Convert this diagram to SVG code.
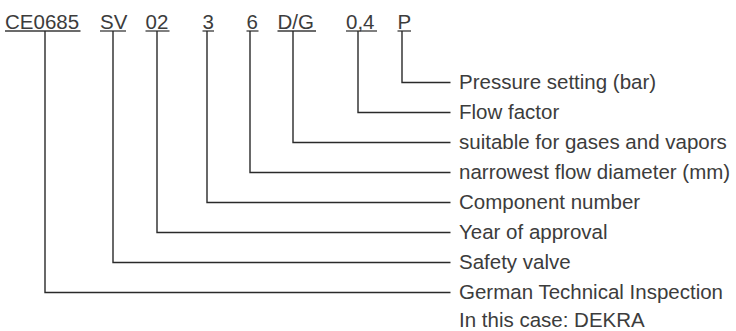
<svg xmlns="http://www.w3.org/2000/svg" width="736" height="331" viewBox="0 0 736 331">
<style>
text{font-family:"Liberation Sans",Arial,sans-serif;font-size:20.5px;fill:#3c3c3c}
.u{stroke:#3a3a3a;stroke-width:1.3;fill:none}
.c{stroke:#2a2a2a;stroke-width:1.4;fill:none}
</style>
<rect width="736" height="331" fill="#fff"/>
<g id="codes">
<g id="code-ce"><text x="5" y="29">CE0685</text><line class="u" x1="5" y1="31" x2="80.5" y2="31"/></g>
<g id="code-sv"><text x="100" y="29">SV</text><line class="u" x1="100" y1="31" x2="126" y2="31"/></g>
<g id="code-02"><text x="145.5" y="29">02</text><line class="u" x1="145.5" y1="31" x2="169.5" y2="31"/></g>
<g id="code-3"><text x="202.5" y="29">3</text><line class="u" x1="202.5" y1="31" x2="214" y2="31"/></g>
<g id="code-6"><text x="246.5" y="29">6</text><line class="u" x1="246.5" y1="31" x2="258.5" y2="31"/></g>
<g id="code-dg"><text x="277.5" y="29">D/G</text><line class="u" x1="277.5" y1="31" x2="316" y2="31"/></g>
<g id="code-04"><text x="346" y="29">0,4</text><line class="u" x1="346" y1="31" x2="377" y2="31"/></g>
<g id="code-p"><text x="397.5" y="29">P</text><line class="u" x1="397.5" y1="31" x2="411" y2="31"/></g>
</g>
<g id="labels">
<g id="label-p"><text x="459" y="89">Pressure setting (bar)</text></g>
<g id="label-04"><text x="459" y="119">Flow factor</text></g>
<g id="label-dg"><text x="459" y="149">suitable for gases and vapors</text></g>
<g id="label-6"><text x="459" y="179">narrowest flow diameter (mm)</text></g>
<g id="label-3"><text x="459" y="209">Component number</text></g>
<g id="label-02"><text x="459" y="239">Year of approval</text></g>
<g id="label-sv"><text x="459" y="269">Safety valve</text></g>
<g id="label-ce"><text x="459" y="299">German Technical Inspection</text><text x="459" y="327">In this case: DEKRA</text></g>
</g>
<g id="connectors">
<polyline class="c" points="402,31 402,82.5 450.5,82.5"/>
<polyline class="c" points="358,31 358,112.5 450.5,112.5"/>
<polyline class="c" points="293,31 293,142.5 450.5,142.5"/>
<polyline class="c" points="250,31 250,172.5 450.5,172.5"/>
<polyline class="c" points="207,31 207,202.5 450.5,202.5"/>
<polyline class="c" points="157,31 157,232.5 450.5,232.5"/>
<polyline class="c" points="113,31 113,262.5 450.5,262.5"/>
<polyline class="c" points="45,31 45,292.5 450.5,292.5"/>
</g>
</svg>
